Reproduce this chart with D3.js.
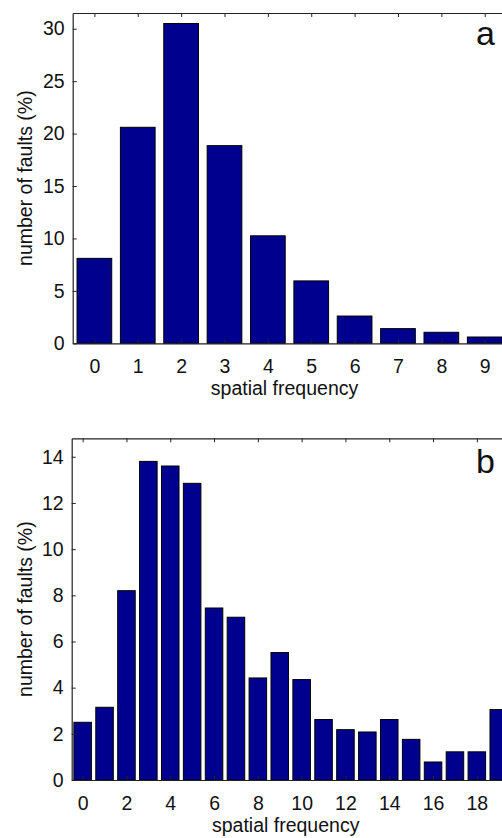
<!DOCTYPE html>
<html>
<head>
<meta charset="utf-8">
<script src="https://cdn.jsdelivr.net/npm/d3@7"></script>
<style>
  body { margin: 0; background: #fff; }
  text { font-family: "Liberation Sans", Arial, Helvetica, sans-serif; fill: #111; }
  .axis path, .axis line { stroke: #222; }
</style>
</head>
<body>
<div class="chart"></div>
<script>
var svgWidth = 502;
var svgHeight = 838;

// panel a : spatial frequency 0..9
var freqA = [0, 1, 2, 3, 4, 5, 6, 7, 8, 9];
var faultsA = [8.1, 20.6, 30.5, 18.85, 10.25, 5.95, 2.6, 1.4, 1.05, 0.6];
var xTicksA = [0, 1, 2, 3, 4, 5, 6, 7, 8, 9];
var yTicksA = [0, 5, 10, 15, 20, 25, 30];

// panel b : spatial frequency 0..19
var freqB = [0, 1, 2, 3, 4, 5, 6, 7, 8, 9, 10, 11, 12, 13, 14, 15, 16, 17, 18, 19];
var faultsB = [2.5, 3.15, 8.2, 13.8, 13.6, 12.85, 7.45, 7.05, 4.42, 5.52,
               4.35, 2.62, 2.18, 2.08, 2.62, 1.76, 0.78, 1.22, 1.22, 3.05];
var xTicksB = [0, 2, 4, 6, 8, 10, 12, 14, 16, 18];
var yTicksB = [0, 2, 4, 6, 8, 10, 12, 14];

var fontSize = "19.5px";

var svg = d3.select(".chart")
  .append("svg")
  .attr("width", svgWidth)
  .attr("height", svgHeight);

function drawPanel(p) {
  var g = svg.append("g");
  var n = p.freq.length;

  var x = d3.scaleLinear().domain([-0.5, n - 0.5]).range([p.left, p.right]);
  var y = d3.scaleLinear().domain([0, p.yMax]).range([p.bottom, p.top]);
  var barW = (x(1) - x(0)) * 0.8;

  // bars
  g.selectAll("rect.bar")
    .data(p.freq)
    .enter()
    .append("rect")
    .attr("class", "bar")
    .attr("x", function(d) { return x(d) - barW / 2; })
    .attr("y", function(d, i) { return y(p.faults[i]); })
    .attr("width", barW)
    .attr("height", function(d, i) { return p.bottom - y(p.faults[i]); })
    .style("fill", "#00008f")
    .style("stroke", "#000")
    .style("stroke-width", 1);

  // box with inward ticks (matlab style)
  g.append("g")
    .attr("class", "axis")
    .attr("transform", "translate(0," + p.bottom + ")")
    .call(d3.axisBottom(x).tickValues(p.xTicks).tickSizeInner(-4).tickSizeOuter(0).tickPadding(16))
    .selectAll("text").style("font-size", fontSize);

  g.append("g")
    .attr("class", "axis")
    .attr("transform", "translate(0," + p.top + ")")
    .call(d3.axisTop(x).tickValues(p.xTicks).tickSizeInner(-4).tickSizeOuter(0).tickFormat(""));

  g.append("g")
    .attr("class", "axis")
    .attr("transform", "translate(" + p.left + ",0)")
    .call(d3.axisLeft(y).tickValues(p.yTicks).tickSizeInner(-4).tickSizeOuter(0).tickPadding(8))
    .selectAll("text").style("font-size", fontSize);

  g.append("g")
    .attr("class", "axis")
    .attr("transform", "translate(" + p.right + ",0)")
    .call(d3.axisRight(y).tickValues(p.yTicks).tickSizeInner(-4).tickSizeOuter(0).tickFormat(""));

  g.selectAll(".axis .domain").style("stroke-width", 1.2);

  // labels
  g.append("text")
    .attr("x", (p.left + p.right) / 2 - 5)
    .attr("y", p.bottom + 52)
    .style("text-anchor", "middle")
    .style("font-size", fontSize)
    .text("spatial frequency");

  g.append("text")
    .attr("transform", "rotate(-90)")
    .attr("x", -(p.top + p.bottom) / 2)
    .attr("y", 32)
    .style("text-anchor", "middle")
    .style("font-size", fontSize)
    .text("number of faults (%)");

  g.append("text")
    .attr("x", 476)
    .attr("y", p.top + p.letterDy)
    .style("font-size", "34px")
    .text(p.letter);
}

drawPanel({
  freq: freqA, faults: faultsA, xTicks: xTicksA, yTicks: yTicksA,
  yMax: 31.5, left: 72.7, right: 506.4, top: 13, bottom: 343.3,
  letter: "a", letterDy: 31.5
});

drawPanel({
  freq: freqB, faults: faultsB, xTicks: xTicksB, yTicks: yTicksB,
  yMax: 14.8, left: 71.7, right: 509.7, top: 438.3, bottom: 780,
  letter: "b", letterDy: 34.5
});
</script>
</body>
</html>
